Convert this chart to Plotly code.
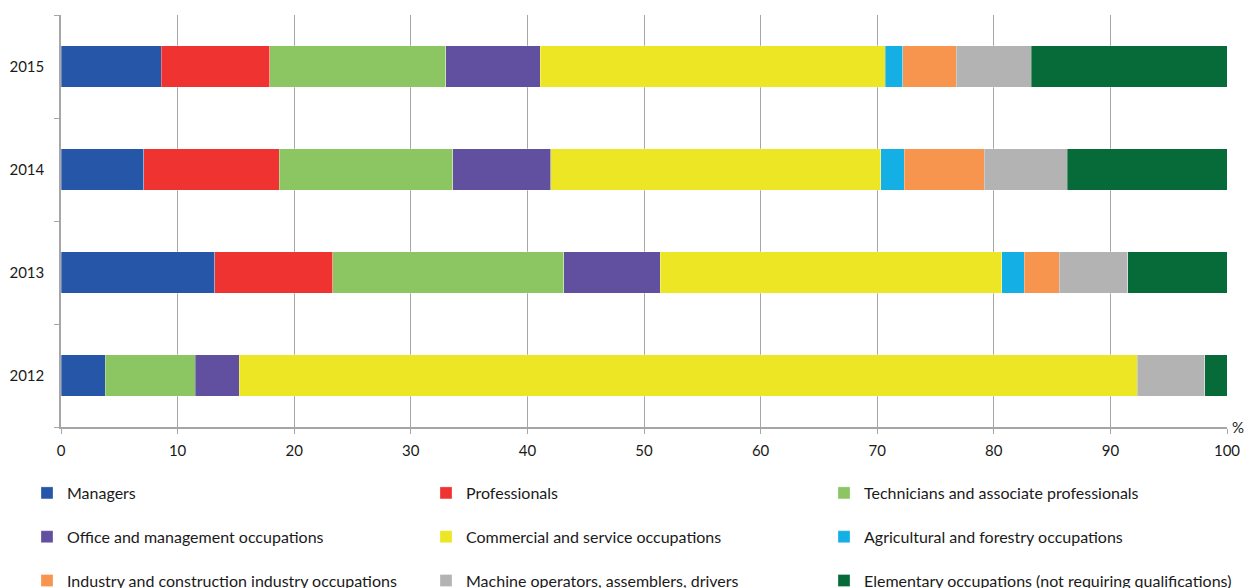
import plotly.graph_objects as go

years = ["2012", "2013", "2014", "2015"]

occupations = [
    "Managers",
    "Professionals",
    "Technicians and associate professionals",
    "Office and management occupations",
    "Commercial and service occupations",
    "Agricultural and forestry occupations",
    "Industry and construction industry occupations",
    "Machine operators, assemblers, drivers",
    "Elementary occupations (not requiring qualifications)",
]

managers = [3.8, 13.2, 7.1, 8.6]
professionals = [0.0, 10.1, 11.6, 9.3]
technicians = [7.7, 19.8, 14.9, 15.1]
office = [3.8, 8.3, 8.4, 8.1]
commercial = [77.0, 29.3, 28.3, 29.6]
agricultural = [0.0, 1.9, 2.0, 1.5]
industry = [0.0, 3.0, 6.9, 4.6]
machine = [5.8, 5.9, 7.1, 6.4]
elementary = [1.9, 8.5, 13.7, 16.8]

series = [managers, professionals, technicians, office, commercial,
          agricultural, industry, machine, elementary]

colors = ["#2656a7", "#ef3330", "#8bc662", "#6150a0", "#ede624",
          "#13afe5", "#f7954f", "#b2b3b2", "#066b38"]

x_ticks = [0, 10, 20, 30, 40, 50, 60, 70, 80, 90, 100]

FONT = "Lato"
legend_names = ["legend", "legend2", "legend3"]

fig = go.Figure()
for i, (name, vals, col) in enumerate(zip(occupations, series, colors)):
    fig.add_trace(go.Bar(
        y=years, x=vals, name=name, orientation="h",
        marker=dict(color=col, line=dict(color="rgba(255,255,255,0.5)", width=0.6)),
        legend=legend_names[i % 3], legendgroup=name,
    ))

W, H = 1245, 588
L, R, T = 61, W - 1227, 15
B = H - 427
plot_w = W - L - R
plot_h = H - T - B

def px_x(px):
    return (px - L) / plot_w

def px_y(py):
    return (H - B - py) / plot_h

leg_common = dict(
    orientation="v", xanchor="left", yanchor="top",
    font=dict(family=FONT, size=16, color="#1a1a1a"),
    bgcolor="rgba(0,0,0,0)", itemclick=False, itemdoubleclick=False,
    traceorder="grouped", tracegroupgap=20,
)
leg_top = px_y(493 - 17)

fig.update_layout(
    width=W, height=H,
    margin=dict(l=L, r=R, t=T, b=B, pad=0, autoexpand=False),
    plot_bgcolor="white", paper_bgcolor="white",
    barmode="stack", bargap=0.6,
    font=dict(family=FONT, size=15, color="#1a1a1a"),
    legend=dict(x=px_x(27), y=leg_top, **leg_common),
    legend2=dict(x=px_x(426), y=leg_top, **leg_common),
    legend3=dict(x=px_x(824), y=leg_top, **leg_common),
    xaxis=dict(
        range=[0, 100], tickvals=x_ticks, ticktext=[str(v) for v in x_ticks],
        showgrid=True, gridcolor="#a6a6a6", gridwidth=1,
        showline=True, linecolor="#a6a6a6", linewidth=1.5,
        ticks="outside", ticklen=5, tickcolor="#a6a6a6", tickwidth=1,
        ticklabelstandoff=4, automargin=False,
        zeroline=False, fixedrange=True,
        tickfont=dict(family=FONT, size=15, color="#1a1a1a"),
    ),
    yaxis=dict(
        type="category", categoryorder="array", categoryarray=years,
        range=[-0.5, 3.5],
        showgrid=False, showline=True, linecolor="#a6a6a6", linewidth=1.5,
        ticks="outside", tickson="boundaries", ticklen=5,
        tickcolor="#a6a6a6", tickwidth=1,
        ticklabelstandoff=12, automargin=False,
        fixedrange=True,
        tickfont=dict(family=FONT, size=15, color="#1a1a1a"),
    ),
    annotations=[dict(
        text="%", xref="paper", yref="paper", x=1.003, y=0,
        xanchor="left", yanchor="middle", showarrow=False,
        font=dict(family=FONT, size=15, color="#1a1a1a"),
    )],
)

fig.write_html(
    "out.html",
    config={"displayModeBar": False, "staticPlot": False},
    post_script="document.body.style.margin='0';document.body.style.overflow='hidden';",
)
